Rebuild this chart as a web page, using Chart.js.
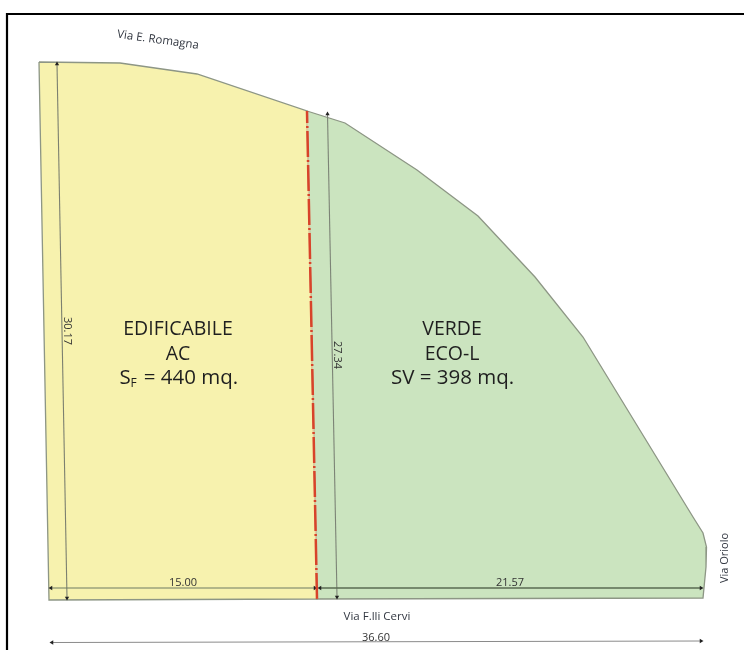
<!DOCTYPE html>
<html lang="it">
<head>
    <meta charset="UTF-8">
    <title>Planimetria lotto</title>
    <style>
        body { margin: 0; background: #fff; }
        canvas { display: block; filter: blur(0.6px); }
    </style>
</head>
<body>
    <canvas id="plan" width="744" height="650"></canvas>

    <script src="https://cdn.jsdelivr.net/npm/chart.js"></script>
    <script>
        // Outlines, in drawing units
        const edificabileX = [39, 120, 197, 307, 317, 49, 39];
        const edificabileY = [62, 63, 74, 111, 599, 600, 62];
        const verdeX = [307, 345, 417, 478, 535, 583, 693, 703, 706.5, 706, 703, 317, 307];
        const verdeY = [111, 123, 170, 216, 277, 337, 517, 533, 547, 567, 598, 599, 111];

        const frameX = [7, 7, 744];
        const frameY = [650, 14, 14];
        const confineX = [307, 317];
        const confineY = [111, 599];

        // Dimension lines
        const quotaSinistraX = [57, 67];
        const quotaSinistraY = [64, 598];
        const quotaCentroX = [327.5, 337];
        const quotaCentroY = [114, 597];
        const quota15X = [51, 315];
        const quota15Y = [588, 588];
        const quota21X = [320, 701];
        const quota21Y = [588, 588];
        const quota36X = [52, 701];
        const quota36Y = [642.5, 641];

        const toPoints = (xs, ys) => xs.map((x, i) => ({ x: x, y: ys[i] }));

        function area(xs, ys, fillColor) {
            return {
                data: toPoints(xs, ys),
                showLine: true,
                fill: 'shape',
                backgroundColor: fillColor,
                borderColor: '#8d9685',
                borderWidth: 1.3,
                pointRadius: 0,
                tension: 0
            };
        }

        function quota(xs, ys, color, width, rotations) {
            return {
                data: toPoints(xs, ys),
                showLine: true,
                borderColor: color,
                borderWidth: width,
                pointStyle: 'triangle',
                pointRadius: 2.5,
                pointRotation: rotations,
                pointBackgroundColor: '#222',
                pointBorderWidth: 0
            };
        }

        // Text labels
        const labels = [
            { t: 'EDIFICABILE', x: 178, y: 329, font: '19.5px "Open Sans"', c: '#1f1f1f' },
            { t: 'AC', x: 178, y: 354, font: '19.5px "Open Sans"', c: '#1f1f1f' },
            { t: '= 440 mq.', x: 191, y: 378, font: '20.5px "Open Sans"', c: '#1f1f1f' },
            { t: 'S', x: 125, y: 378, font: '20.5px "Open Sans"', c: '#1f1f1f' },
            { t: 'F', x: 133.5, y: 384, font: '12px "Open Sans"', c: '#1f1f1f' },
            { t: 'VERDE', x: 452, y: 329, font: '19.5px "Open Sans"', c: '#1f1f1f' },
            { t: 'ECO-L', x: 452, y: 354, font: '19.5px "Open Sans"', c: '#1f1f1f' },
            { t: 'SV = 398 mq.', x: 452.5, y: 378, font: '20.5px "Open Sans"', c: '#1f1f1f' },
            { t: '30.17', x: 67, y: 331, r: 90, font: '11px "Open Sans"', c: '#333' },
            { t: '27.34', x: 337, y: 355, r: 90, font: '11px "Open Sans"', c: '#333' },
            { t: '15.00', x: 183, y: 583, font: '11px "Open Sans"', c: '#333' },
            { t: '21.57', x: 510, y: 583, font: '11px "Open Sans"', c: '#333' },
            { t: '36.60', x: 376, y: 638, font: '11px "Open Sans"', c: '#333' },
            { t: 'Via F.lli Cervi', x: 377, y: 617, font: '11.5px "Open Sans"', c: '#333842' },
            { t: 'Via Oriolo', x: 725, y: 558, r: -90, font: '11px "Open Sans"', c: '#333842' },
            { t: 'Via E. Romagna', x: 158, y: 40, r: 8, font: '11.5px "Open Sans"', c: '#333842' }
        ];

        const labelPlugin = {
            id: 'planLabels',
            afterDatasetsDraw(chart) {
                const ctx = chart.ctx;
                labels.forEach(l => {
                    ctx.save();
                    ctx.translate(chart.scales.x.getPixelForValue(l.x), chart.scales.y.getPixelForValue(l.y));
                    ctx.rotate((l.r || 0) * Math.PI / 180);
                    ctx.font = l.font;
                    ctx.fillStyle = l.c;
                    ctx.textAlign = 'center';
                    ctx.textBaseline = 'middle';
                    ctx.fillText(l.t, 0, 0);
                    ctx.restore();
                });
            }
        };

        // Chart.js paints the first dataset last, so the list runs top layer to bottom layer
        new Chart(document.getElementById('plan').getContext('2d'), {
            type: 'scatter',
            data: {
                datasets: [
                    {
                        data: toPoints(frameX, frameY),
                        showLine: true,
                        borderColor: '#000',
                        borderWidth: 2.2,
                        pointRadius: 0
                    },
                    {
                        data: toPoints(confineX, confineY),
                        showLine: true,
                        borderColor: '#d8432a',
                        borderWidth: 2.5,
                        borderDash: [26, 3, 2, 3],
                        borderDashOffset: 14,
                        pointRadius: 0
                    },
                    // pale line under the gaps of the red dashes
                    {
                        data: toPoints(confineX, confineY),
                        showLine: true,
                        borderColor: '#e6c79c',
                        borderWidth: 1.6,
                        pointRadius: 0
                    },
                    quota(quota36X, quota36Y, '#8a8a8a', 1, [-90, 90]),
                    quota(quota21X, quota21Y, '#5a6b52', 1.4, [-90, 90]),
                    quota(quota15X, quota15Y, '#6f7a62', 1.2, [-90, 90]),
                    quota(quotaCentroX, quotaCentroY, '#7c8376', 1.1, [0, 180]),
                    quota(quotaSinistraX, quotaSinistraY, '#7c8070', 1.1, [0, 180]),
                    area(edificabileX, edificabileY, '#f7f2ae'),
                    area(verdeX, verdeY, '#cbe4bf')
                ]
            },
            options: {
                responsive: false,
                animation: false,
                layout: { padding: 0, autoPadding: false },
                plugins: { legend: { display: false }, tooltip: { enabled: false } },
                scales: {
                    x: { type: 'linear', display: false, min: 0, max: 744 },
                    y: { type: 'linear', display: false, min: 0, max: 650, reverse: true }
                }
            },
            plugins: [labelPlugin]
        });
    </script>
</body>
</html>
